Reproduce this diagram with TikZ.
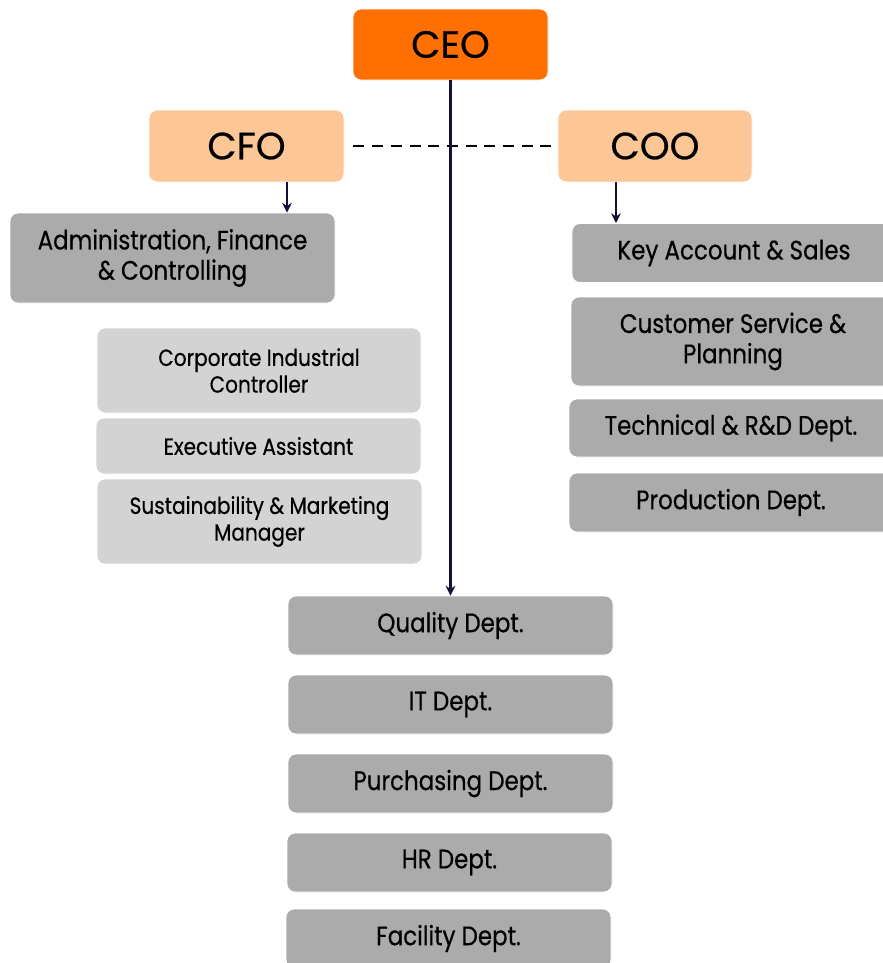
\documentclass[tikz,border=0pt]{standalone}
\usepackage{fontspec}
\setmainfont{Poppins}
\newfontfamily\chieffont[FakeBold=0.6]{Poppins}
\newfontfamily\deptfont[FakeStretch=0.86,FakeBold=0.5]{Poppins}
\usetikzlibrary{arrows.meta,positioning}
\definecolor{ceoorange}{HTML}{FF7000}
\definecolor{cxopeach}{HTML}{FCC696}
\definecolor{deptgray}{HTML}{ABABAB}
\definecolor{staffgray}{HTML}{D3D3D3}
\definecolor{linenavy}{HTML}{12123A}
\tikzset{
  box/.style 2 args={draw=white, line width=0.6pt, rounded corners=0.2cm, inner sep=0pt, align=center,
    minimum width=#1*0.025cm, minimum height=#2*0.025cm, text=black},
  chief/.style={fill=ceoorange, font=\chieffont\fontsize{27}{32}\selectfont},
  officer/.style={fill=cxopeach, font=\chieffont\fontsize{27}{32}\selectfont},
  dept/.style={fill=deptgray, font=\deptfont\fontsize{19}{21.5}\selectfont},
  staff/.style={fill=staffgray, font=\deptfont\fontsize{16.6}{19}\selectfont},
  link/.style={draw=linenavy, line width=1.6pt, -{Stealth[length=7pt,width=7pt]}},
}
\begin{document}
\begin{tikzpicture}[x=0.025cm,y=-0.025cm]
                        \useasboundingbox (0,0) rectangle (883,963);
                        
                        % Drawing boxes chief officers
                        \node [box={195}{71}, chief] (ceo) at (450.5,44.5) {CEO};
                        \node [box={195}{72}, officer] (cfo) at (246.5,146) {CFO};
                        \node [box={194}{72}, officer] (coo) at (655,146) {COO};
                        
                        % Drawing boxes under cfo
                        \node [box={325}{90}, dept] (admin) at (172.5,258) {Administration, Finance\\\& Controlling};
                        \node [box={324}{85}, staff] (indctrl) at (259,370.5) {Corporate Industrial\\Controller};
                        \node [box={325}{56}, staff] (execassist) at (258.5,446) {Executive Assistant};
                        \node [box={325}{85}, staff] (sustain) at (259.5,521.5) {Sustainability \& Marketing\\Manager};
                        
                        % Drawing boxes under coo
                        \node [box={324}{59}, dept] (keyacc) at (734,253) {Key Account \& Sales};
                        \node [box={324}{89}, dept] (custserv) at (733,341.5) {Customer Service \&\\Planning};
                        \node [box={324}{58}, dept] (techrd) at (731,428) {Technical \& R\&D Dept.};
                        \node [box={324}{59}, dept] (prod) at (731,502.5) {Production Dept.};
                        
                        % Drawing boxes under ceo
                        \node [box={325}{59}, dept] (quality) at (450.5,625.5) {Quality Dept.};
                        \node [box={325}{59}, dept] (itdept) at (450.5,704.5) {IT Dept.};
                        \node [box={325}{59}, dept] (purch) at (450.5,783.5) {Purchasing Dept.};
                        \node [box={325}{59}, dept] (hrdept) at (449.5,862.5) {HR Dept.};
                        \node [box={325}{59}, dept] (facility) at (448.5,938.5) {Facility Dept.};
                        
                        % Drawing segment cfo coo
                        \draw [black, line width=1.9pt, dash pattern=on 7.8pt off 5.5pt, shorten <=9*0.025cm, shorten >=6*0.025cm] (cfo.east) -- (coo.west);%
                        
                        % Drawing arrow ceo quality
                        \draw [link] (ceo.south) -- (quality.north);%
                        
                        % Drawing arrow cfo admin
                        \coordinate (cfoarr) at (287,0);
                        \draw [link] (cfo.south -| cfoarr) -- (admin.north -| cfoarr);%
                        
                        % Drawing arrow coo keyacc
                        \coordinate (cooarr) at (616,0);
                        \draw [link] (coo.south -| cooarr) -- (keyacc.north -| cooarr);%
                        \end{tikzpicture}
\end{document}
